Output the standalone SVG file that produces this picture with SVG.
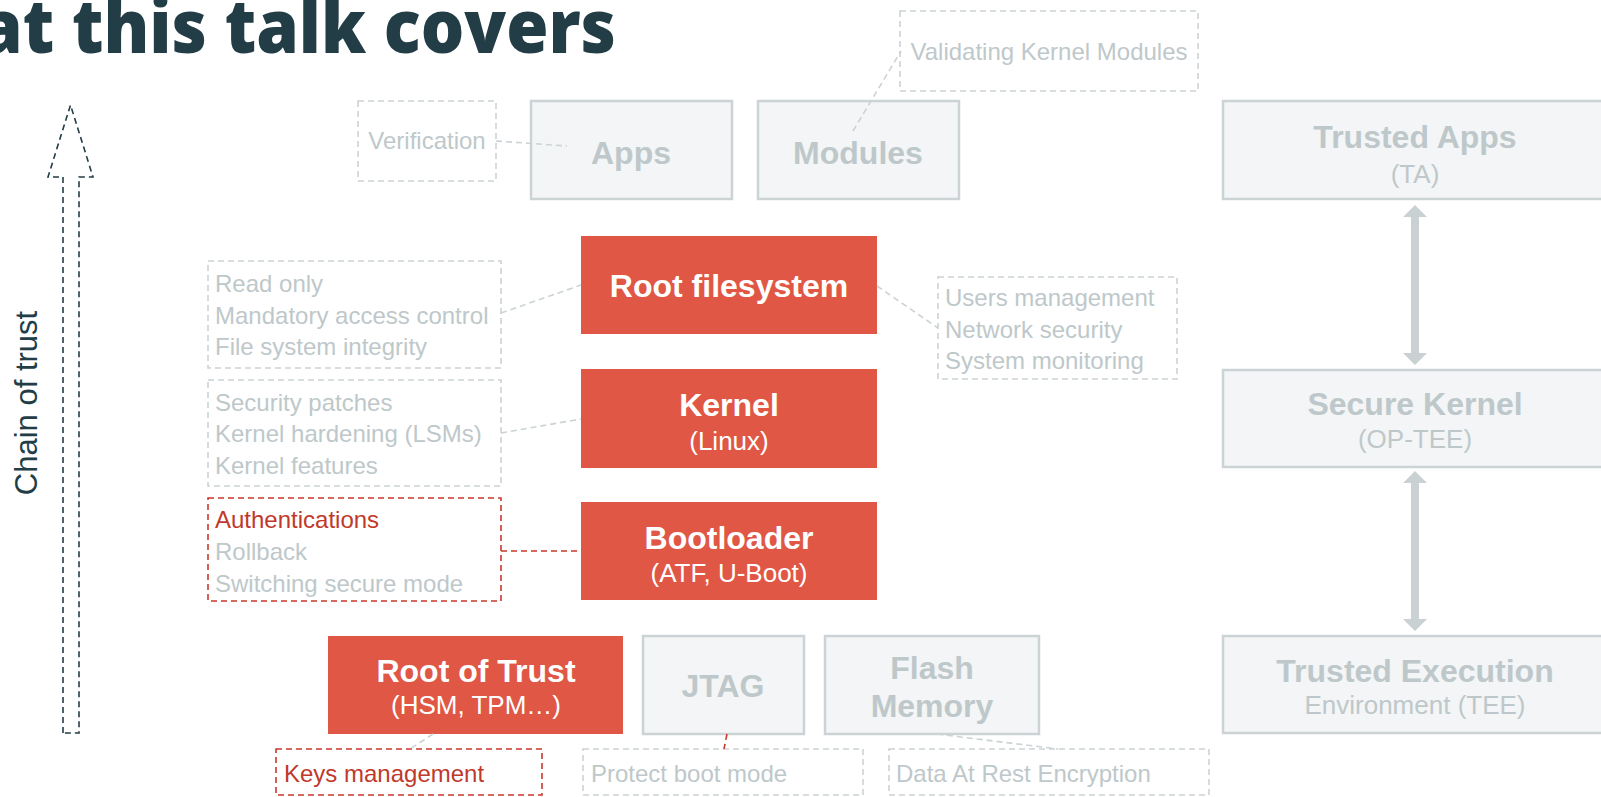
<svg xmlns="http://www.w3.org/2000/svg" width="1601" height="797" viewBox="0 0 1601 797">
<style>
text{font-family:'Liberation Sans',Arial,sans-serif}
.ttl{font-family:'Open Sans',sans-serif;font-weight:800;font-size:75px;fill:#233d47}
.bx{fill:#f3f5f6;stroke:#ccd3d5;stroke-width:2.5}
.rb{fill:#e05745}
.db{fill:none;stroke:#ccd3d5;stroke-width:1.6;stroke-dasharray:6 4}
.dr{fill:none;stroke:#c8392d;stroke-width:1.6;stroke-dasharray:6 4}
.h{font-weight:bold;font-size:32px;text-anchor:middle}
.s{font-size:26px;text-anchor:middle}
.n{font-size:24px;fill:#bec8ca}
.w{fill:#ffffff}
.g{fill:#bec8ca}
.rt{fill:#c0392b}
.cg{fill:none;stroke:#ccd3d5;stroke-width:1.6;stroke-dasharray:6 4}
.cr{fill:none;stroke:#c8392d;stroke-width:1.6;stroke-dasharray:6 4}
.da{fill:#c9d1d3}
</style>
<rect width="1601" height="797" fill="#ffffff"/>
<g id="title">
<text class="ttl" x="-20" y="53" textLength="636" lengthAdjust="spacingAndGlyphs">at this talk covers</text>
</g>
<g id="chain-of-trust">
<polygon points="63,733 63,177 48,177 70.5,105 93,177 79,177 79,733" fill="none" stroke="#233d47" stroke-width="1.6" stroke-dasharray="6 4"/>
<text x="0" y="0" transform="translate(37,403) rotate(-90)" font-size="31" fill="#233d47" text-anchor="middle">Chain of trust</text>
</g>
<g id="verification">
<rect class="db" x="358" y="101" width="138" height="80"/>
<text class="n" x="427" y="149" text-anchor="middle">Verification</text>
</g>
<g id="apps">
<rect class="bx" x="531" y="101" width="201" height="98"/>
<text class="h g" x="631" y="164">Apps</text>
</g>
<g id="modules">
<rect class="bx" x="758" y="101" width="201" height="98"/>
<text class="h g" x="858" y="164">Modules</text>
</g>
<g id="validating">
<rect class="db" x="900" y="11" width="298" height="80"/>
<text class="n" x="1049" y="60" text-anchor="middle">Validating Kernel Modules</text>
</g>
<g id="trusted-apps">
<rect class="bx" x="1223" y="101" width="400" height="98"/>
<text class="h g" x="1415" y="148">Trusted Apps</text>
<text class="s g" x="1415" y="183">(TA)</text>
</g>
<g id="secure-kernel">
<rect class="bx" x="1223" y="370" width="400" height="97"/>
<text class="h g" x="1415" y="415">Secure Kernel</text>
<text class="s g" x="1415" y="448">(OP-TEE)</text>
</g>
<g id="tee">
<rect class="bx" x="1223" y="636" width="400" height="97"/>
<text class="h g" x="1415" y="682">Trusted Execution</text>
<text class="s g" x="1415" y="714">Environment (TEE)</text>
</g>
<g id="rootfs">
<rect class="rb" x="581" y="236" width="296" height="98"/>
<text class="h w" x="729" y="297">Root filesystem</text>
</g>
<g id="rootfs-left">
<rect class="db" x="208" y="261" width="293" height="107"/>
<text class="n" x="215" y="292">Read only</text>
<text class="n" x="215" y="324">Mandatory access control</text>
<text class="n" x="215" y="355">File system integrity</text>
</g>
<g id="rootfs-right">
<rect class="db" x="938" y="277" width="239" height="102"/>
<text class="n" x="945" y="306">Users management</text>
<text class="n" x="945" y="338">Network security</text>
<text class="n" x="945" y="369">System monitoring</text>
</g>
<g id="kernel">
<rect class="rb" x="581" y="369" width="296" height="99"/>
<text class="h w" x="729" y="416">Kernel</text>
<text class="s w" x="729" y="450">(Linux)</text>
</g>
<g id="kernel-left">
<rect class="db" x="208" y="380" width="293" height="106"/>
<text class="n" x="215" y="411">Security patches</text>
<text class="n" x="215" y="442">Kernel hardening (LSMs)</text>
<text class="n" x="215" y="474">Kernel features</text>
</g>
<g id="bootloader">
<rect class="rb" x="581" y="502" width="296" height="98"/>
<text class="h w" x="729" y="549">Bootloader</text>
<text class="s w" x="729" y="582">(ATF, U-Boot)</text>
</g>
<g id="bootloader-left">
<rect class="dr" x="208" y="498" width="293" height="103"/>
<text class="n rt" x="215" y="528">Authentications</text>
<text class="n" x="215" y="560">Rollback</text>
<text class="n" x="215" y="592">Switching secure mode</text>
</g>
<g id="root-of-trust">
<rect class="rb" x="328" y="636" width="295" height="98"/>
<text class="h w" x="476" y="682">Root of Trust</text>
<text class="s w" x="476" y="714">(HSM, TPM…)</text>
</g>
<g id="jtag">
<rect class="bx" x="643" y="636" width="161" height="98"/>
<text class="h g" x="723" y="697">JTAG</text>
</g>
<g id="flash">
<rect class="bx" x="825" y="636" width="214" height="98"/>
<text class="h g" x="932" y="679">Flash</text>
<text class="h g" x="932" y="717">Memory</text>
</g>
<g id="keys">
<rect class="dr" x="276" y="749" width="266" height="46"/>
<text class="n rt" x="284" y="782">Keys management</text>
</g>
<g id="protect-boot">
<rect class="db" x="583" y="749" width="280" height="46"/>
<text class="n" x="591" y="782">Protect boot mode</text>
</g>
<g id="dare">
<rect class="db" x="889" y="749" width="320" height="46"/>
<text class="n" x="896" y="782">Data At Rest Encryption</text>
</g>
<g id="connectors">
<line class="cg" x1="496" y1="141" x2="567" y2="146"/>
<line class="cg" x1="853" y1="131" x2="901" y2="51"/>
<line class="cg" x1="501" y1="313" x2="581" y2="285"/>
<line class="cg" x1="877" y1="286" x2="938" y2="328"/>
<line class="cg" x1="501" y1="433" x2="581" y2="419"/>
<line class="cr" x1="501" y1="551" x2="581" y2="551"/>
<line class="cg" x1="433" y1="734" x2="410" y2="749"/>
<line class="cr" x1="727" y1="734" x2="724" y2="749"/>
<line class="cg" x1="937" y1="734" x2="1058" y2="749"/>
<polygon class="da" points="1415,205 1427,217 1419,217 1419,353 1427,353 1415,365 1403,353 1411,353 1411,217 1403,217"/>
<polygon class="da" points="1415,471 1427,483 1419,483 1419,619 1427,619 1415,631 1403,619 1411,619 1411,483 1403,483"/>
</g>
</svg>
